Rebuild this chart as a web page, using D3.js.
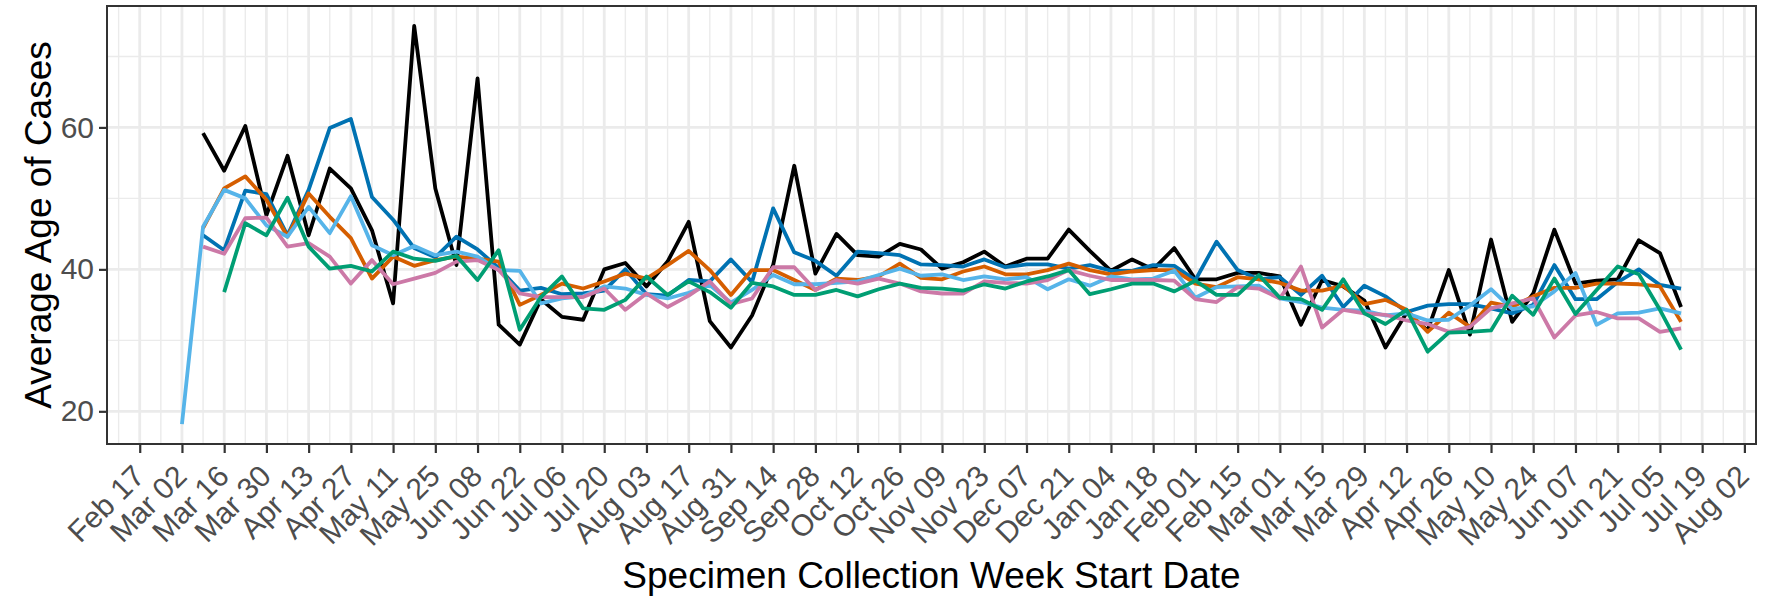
<!DOCTYPE html>
<html>
<head>
<meta charset="utf-8">
<script src="https://cdn.jsdelivr.net/npm/d3@7"></script>
<style>
  body { margin: 0; background: #fff; }
  text { font-family: "Liberation Sans", Arial, sans-serif; }
</style>
</head>
<body>
<div id="my_dataviz"></div>
<script>

/////////////////////////////////////
////////////// Data /////////////////
/////////////////////////////////////

var weekStarts = [
  "2020-03-02","2020-03-09","2020-03-16","2020-03-23","2020-03-30","2020-04-06","2020-04-13","2020-04-20",
  "2020-04-27","2020-05-04","2020-05-11","2020-05-18","2020-05-25","2020-06-01","2020-06-08","2020-06-15",
  "2020-06-22","2020-06-29","2020-07-06","2020-07-13","2020-07-20","2020-07-27","2020-08-03","2020-08-10",
  "2020-08-17","2020-08-24","2020-08-31","2020-09-07","2020-09-14","2020-09-21","2020-09-28","2020-10-05",
  "2020-10-12","2020-10-19","2020-10-26","2020-11-02","2020-11-09","2020-11-16","2020-11-23","2020-11-30",
  "2020-12-07","2020-12-14","2020-12-21","2020-12-28","2021-01-04","2021-01-11","2021-01-18","2021-01-25",
  "2021-02-01","2021-02-08","2021-02-15","2021-02-22","2021-03-01","2021-03-08","2021-03-15","2021-03-22",
  "2021-03-29","2021-04-05","2021-04-12","2021-04-19","2021-04-26","2021-05-03","2021-05-10","2021-05-17",
  "2021-05-24","2021-05-31","2021-06-07","2021-06-14","2021-06-21","2021-06-28","2021-07-05","2021-07-12"
]

var blackAges = [null,
  59.2,53.9,60.2,47.6,56.0,44.8,54.2,51.4,45.5,35.2,74.3,51.4,40.6,66.9,32.2,29.4,
  35.8,33.3,32.9,40.0,40.9,37.6,41.1,46.7,32.7,29.0,33.5,40.6,54.6,39.4,45.0,42.0,
  41.8,43.6,42.8,40.1,41.0,42.5,40.4,41.5,41.5,45.6,42.6,39.8,41.4,40.0,43.0,38.6,
  38.6,39.5,39.5,39.0,32.2,38.5,37.6,35.6,29.0,33.9,31.4,39.9,30.8,44.2,32.6,36.6,
  45.6,38.0,38.4,38.6,44.1,42.3,34.7]

var blueAges = [null,
  44.8,42.7,51.1,50.6,44.8,51.2,59.9,61.2,50.2,47.0,43.0,41.7,44.6,42.8,40.2,37.0,
  37.4,36.5,36.6,37.0,40.0,36.5,36.3,38.5,38.3,41.4,38.2,48.6,42.4,41.2,39.1,42.5,
  42.3,42.0,40.7,40.6,40.4,41.4,40.3,40.7,40.7,40.1,40.6,39.8,39.8,40.6,40.5,38.5,
  43.9,39.9,38.6,38.9,36.4,39.1,34.7,37.7,36.2,34.0,34.9,35.1,35.1,34.5,33.8,35.0,
  40.6,35.8,35.8,38.2,40.0,37.8,37.3]

var orangeAges = [null,
  45.8,51.4,53.1,49.8,44.6,50.7,47.4,44.4,38.7,41.8,40.5,41.3,41.8,41.5,41.1,35.0,
  36.4,38.0,37.3,38.3,39.4,38.7,40.6,42.6,39.9,36.4,39.9,39.9,38.5,37.1,38.7,38.5,
  39.0,40.8,38.8,38.6,39.7,40.4,39.3,39.3,39.9,40.8,39.9,39.3,39.7,39.9,39.9,38.0,
  37.5,38.9,38.6,38.1,37.0,37.0,37.7,35.1,35.7,34.3,31.2,33.9,31.9,35.3,34.7,36.2,
  37.4,37.4,38.0,38.0,37.9,37.6,32.6]

var skyblueAges = [18.2,
  46.0,51.2,50.0,46.2,44.6,48.8,45.1,50.3,43.4,42.0,43.3,42.0,42.5,41.8,39.9,39.8,
  35.2,35.9,36.2,37.6,37.3,36.4,35.9,36.7,37.8,35.3,37.1,39.2,37.9,37.9,38.1,38.3,
  39.2,40.1,39.1,39.3,38.5,39.0,38.6,38.9,37.2,38.6,37.7,39.0,38.6,38.7,39.8,36.0,
  37.5,37.6,37.7,35.9,35.4,34.6,34.3,34.2,33.5,33.8,32.8,32.9,34.9,37.2,34.4,34.8,
  36.9,39.5,32.2,33.8,33.9,34.5,33.8]

var pinkAges = [null,
  43.2,42.2,47.2,47.3,43.2,43.7,41.8,38.0,41.3,37.9,38.7,39.5,41.1,41.3,39.9,36.6,
  36.1,36.1,36.1,37.3,34.3,36.6,34.7,36.3,38.3,35.1,35.9,40.3,40.3,37.1,38.5,38.0,
  38.7,38.0,36.9,36.6,36.6,38.3,38.1,38.0,38.5,39.9,39.1,38.5,38.5,38.5,38.4,35.8,
  35.4,37.5,37.3,35.9,40.4,31.8,34.3,33.8,33.6,32.8,32.3,31.2,31.9,34.5,35.2,35.9,
  30.4,33.5,34.0,33.1,33.1,31.2,31.7]

var greenAges = [null,
  null,36.8,46.5,44.8,50.1,43.2,40.1,40.5,39.7,42.5,41.5,41.2,41.9,38.5,42.7,31.5,
  36.1,39.0,34.5,34.3,35.7,39.0,36.4,38.3,36.8,34.6,38.1,37.6,36.4,36.4,37.1,36.2,
  37.2,38.0,37.4,37.3,37.0,37.9,37.3,38.3,39.0,39.9,36.5,37.2,38.0,38.0,36.9,38.4,
  36.4,36.4,39.2,36.0,35.8,34.3,38.6,33.8,32.3,34.3,28.4,31.1,31.2,31.4,36.3,33.6,
  38.7,33.7,37.1,40.4,39.3,34.3,28.7]

var seriesColors = ["#000000", "#0072B2", "#D55E00", "#56B4E9", "#CC79A7", "#009E73"]
var seriesValues = [blackAges, blueAges, orangeAges, skyblueAges, pinkAges, greenAges]

var xTickDates = [
  "2020-02-17","2020-03-02","2020-03-16","2020-03-30","2020-04-13","2020-04-27","2020-05-11","2020-05-25",
  "2020-06-08","2020-06-22","2020-07-06","2020-07-20","2020-08-03","2020-08-17","2020-08-31","2020-09-14",
  "2020-09-28","2020-10-12","2020-10-26","2020-11-09","2020-11-23","2020-12-07","2020-12-21","2021-01-04",
  "2021-01-18","2021-02-01","2021-02-15","2021-03-01","2021-03-15","2021-03-29","2021-04-12","2021-04-26",
  "2021-05-10","2021-05-24","2021-06-07","2021-06-21","2021-07-05","2021-07-19","2021-08-02"
]
var yTicks = [20, 40, 60]
var yMinor = [30, 50, 70]

/////////////////////////////////////
////////////// Chart ////////////////
/////////////////////////////////////

var W = 1779, H = 597
var margin = {top: 6, right: 23, bottom: 153, left: 107},
    width = W - margin.left - margin.right,
    height = H - margin.top - margin.bottom

var parse = d3.utcParse("%Y-%m-%d")
var dates = weekStarts.map(parse)
var tickDates = xTickDates.map(parse)

var svg = d3.select("#my_dataviz")
  .append("svg")
    .attr("width", W)
    .attr("height", H)

var g = svg.append("g")
    .attr("transform", "translate(" + margin.left + "," + margin.top + ")")

// ggplot style 5% expansion
var xExt = d3.extent(dates)
var xPad = (xExt[1] - xExt[0]) * 0.05
var x = d3.scaleUtc()
    .domain([new Date(+xExt[0] - xPad), new Date(+xExt[1] + xPad)])
    .range([0, width])

var allVals = [].concat.apply([], seriesValues).filter(function(v){ return v != null })
var yExt = d3.extent(allVals)
var yPad = (yExt[1] - yExt[0]) * 0.05
var y = d3.scaleLinear()
    .domain([yExt[0] - yPad, yExt[1] + yPad])
    .range([height, 0])

// minor grid
var xMinor = []
tickDates.forEach(function(d){
  [-7, 7].forEach(function(o){
    var m = d3.utcDay.offset(d, o)
    if (m >= x.domain()[0] && m <= x.domain()[1] && xMinor.indexOf(+m) < 0) xMinor.push(+m)
  })
})

g.selectAll(".minorx")
  .data(xMinor)
  .enter().append("line")
    .attr("x1", function(d){ return x(new Date(d)) })
    .attr("x2", function(d){ return x(new Date(d)) })
    .attr("y1", 0).attr("y2", height)
    .attr("stroke", "#EBEBEB").attr("stroke-width", 1.4)

g.selectAll(".minory")
  .data(yMinor)
  .enter().append("line")
    .attr("x1", 0).attr("x2", width)
    .attr("y1", function(d){ return y(d) })
    .attr("y2", function(d){ return y(d) })
    .attr("stroke", "#EBEBEB").attr("stroke-width", 1.4)

// major grid
g.selectAll(".majorx")
  .data(tickDates)
  .enter().append("line")
    .attr("x1", function(d){ return x(d) })
    .attr("x2", function(d){ return x(d) })
    .attr("y1", 0).attr("y2", height)
    .attr("stroke", "#EBEBEB").attr("stroke-width", 2.8)

g.selectAll(".majory")
  .data(yTicks)
  .enter().append("line")
    .attr("x1", 0).attr("x2", width)
    .attr("y1", function(d){ return y(d) })
    .attr("y2", function(d){ return y(d) })
    .attr("stroke", "#EBEBEB").attr("stroke-width", 2.8)

// lines
var line = d3.line()
    .defined(function(d){ return d.v != null })
    .x(function(d){ return x(d.date) })
    .y(function(d){ return y(d.v) })

seriesValues.forEach(function(vals, k){
  g.append("path")
    .datum(vals.map(function(v, i){ return {date: dates[i], v: v} }))
    .attr("d", line)
    .attr("fill", "none")
    .attr("stroke", seriesColors[k])
    .attr("stroke-width", 3.8)
    .attr("stroke-linejoin", "round")
})

// panel border
g.append("rect")
    .attr("x", 0).attr("y", 0)
    .attr("width", width).attr("height", height)
    .attr("fill", "none")
    .attr("stroke", "#333333")
    .attr("stroke-width", 2)

// X axis
var xAxis = g.append("g")
    .attr("transform", "translate(0," + height + ")")
    .call(d3.axisBottom(x).tickValues(tickDates).tickSize(9).tickFormat(d3.utcFormat("%b %d")))
xAxis.select(".domain").remove()
xAxis.selectAll("line").attr("stroke", "#333333").attr("stroke-width", 2.2)
xAxis.selectAll("text")
    .attr("y", 0).attr("x", 0).attr("dy", 0)
    .attr("transform", "translate(6,34) rotate(-45)")
    .style("text-anchor", "end")
    .style("font-size", "30px")
    .style("font-family", "'Liberation Sans', Arial, sans-serif")
    .attr("fill", "#4D4D4D")

// Y axis
var yAxis = g.append("g")
    .call(d3.axisLeft(y).tickValues(yTicks).tickSize(8).tickPadding(5))
yAxis.select(".domain").remove()
yAxis.selectAll("line").attr("stroke", "#333333").attr("stroke-width", 2.2)
yAxis.selectAll("text")
    .style("font-size", "30px")
    .style("font-family", "'Liberation Sans', Arial, sans-serif")
    .attr("fill", "#4D4D4D")

// titles
svg.append("text")
    .attr("x", margin.left + width / 2)
    .attr("y", 588)
    .attr("text-anchor", "middle")
    .style("font-size", "37px")
    .attr("fill", "#000")
    .text("Specimen Collection Week Start Date")

svg.append("text")
    .attr("transform", "translate(51," + (margin.top + height / 2) + ") rotate(-90)")
    .attr("text-anchor", "middle")
    .style("font-size", "37px")
    .attr("fill", "#000")
    .text("Average Age of Cases")

</script>
</body>
</html>
